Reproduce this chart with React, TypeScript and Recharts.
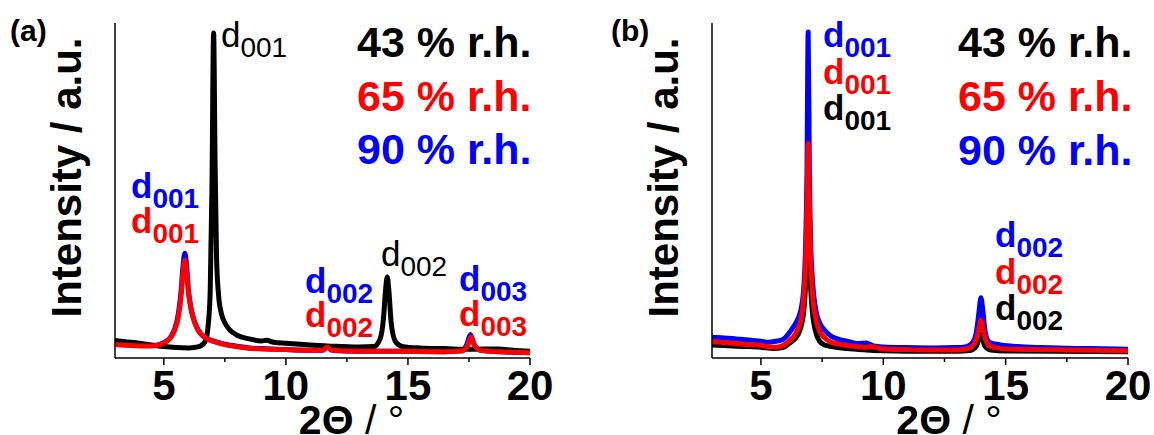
import React from "react";
import { LineChart, Line, XAxis, YAxis } from "recharts";

// 2Θ ticks (integers are labelled, halves are minor ticks)
const xTicks = [5, 7.5, 10, 12.5, 15, 17.5, 20];

// panel (a): [2Θ, intensity]
const a43 = [
  [3.0, 5.2], [3.5, 4.8], [4.0, 4.4], [4.5, 3.9], [5.0, 3.4], [5.5, 3.1], [6.0, 3.0],
  [6.3, 3.2], [6.5, 3.6], [6.7, 5], [6.82, 10], [6.9, 20], [6.97, 50], [7.04, 97],
  [7.1, 58], [7.16, 30], [7.24, 19], [7.35, 13.5], [7.5, 10.5], [7.7, 8.4], [8.0, 6.8],
  [8.5, 5.7], [9.0, 5.1], [9.2, 5.3], [9.5, 4.7], [10.0, 4.4], [11.0, 3.9], [12.0, 3.5],
  [13.0, 3.3], [13.6, 3.4], [13.85, 5.5], [14.0, 12], [14.08, 20], [14.15, 24.2],
  [14.22, 20], [14.32, 10], [14.5, 4.8], [14.8, 3.4], [15.5, 3.0], [16.5, 2.8],
  [17.5, 2.6], [18.7, 2.7], [19.3, 2.3], [20.0, 2.0],
];
const a65 = [
  [3.0, 4.0], [3.5, 3.8], [4.0, 3.6], [4.5, 3.6], [4.8, 3.9], [5.1, 4.9], [5.3, 6.3],
  [5.45, 8.4], [5.6, 12.5], [5.7, 18], [5.78, 25], [5.86, 29.2], [5.93, 26], [6.0, 20],
  [6.1, 15], [6.2, 12], [6.35, 9], [6.5, 7.3], [6.8, 5.6], [7.15, 4.7], [7.5, 4.0],
  [8.0, 3.4], [8.5, 2.9], [9.0, 2.7], [10.0, 2.5], [11.0, 2.3], [11.5, 2.3], [11.7, 3.2],
  [11.9, 2.3], [12.5, 2.1], [13.5, 2.0], [14.5, 2.0], [16.5, 1.9], [17.2, 2.1],
  [17.45, 3.8], [17.58, 6.3], [17.72, 3.8], [18.0, 2.2], [19.0, 1.8], [20.0, 1.6],
];
const a90 = [
  [3.0, 4.1], [3.5, 3.9], [4.0, 3.7], [4.5, 3.7], [4.8, 4.0], [5.1, 5.0], [5.3, 6.5],
  [5.45, 8.8], [5.6, 13.5], [5.7, 19.5], [5.78, 27], [5.86, 31.3], [5.93, 28], [6.0, 21],
  [6.1, 15.5], [6.2, 12.3], [6.35, 9.2], [6.5, 7.4], [6.8, 5.7], [7.15, 4.8], [7.5, 4.1],
  [8.0, 3.5], [8.5, 3.0], [9.0, 2.8], [10.0, 2.5], [11.0, 2.3], [11.5, 2.3], [11.7, 3.2],
  [11.9, 2.3], [12.5, 2.1], [13.5, 2.0], [14.5, 2.0], [16.5, 1.9], [17.2, 2.2],
  [17.42, 4.2], [17.56, 7], [17.7, 4.2], [18.0, 2.3], [19.0, 1.8], [20.0, 1.6],
];

// panel (b)
const b43 = [
  [3.0, 3.9], [3.5, 3.7], [4.0, 3.5], [4.5, 3.4], [5.0, 3.2], [5.5, 2.8], [5.9, 3.1],
  [6.2, 4.6], [6.4, 5.8], [6.6, 8.5], [6.75, 14], [6.85, 26], [6.93, 45], [7.0, 26],
  [7.1, 14], [7.25, 7.5], [7.4, 5.0], [7.6, 3.9], [7.9, 3.4], [8.5, 2.8], [9.3, 2.4],
  [10.0, 2.2], [12.0, 2.0], [13.0, 2.0], [13.5, 2.2], [13.8, 3.5], [13.99, 7],
  [14.15, 3.6], [14.4, 2.4], [15.0, 2.1], [17.0, 2.0], [20.0, 1.9],
];
const b65 = [
  [3.0, 4.9], [3.5, 4.6], [4.0, 4.3], [4.5, 4.0], [5.0, 3.8], [5.3, 3.4], [5.64, 3.2],
  [5.9, 3.7], [6.05, 4.4], [6.2, 5.5], [6.35, 6.5], [6.5, 8.5], [6.65, 12], [6.75, 18],
  [6.83, 30], [6.88, 45], [6.93, 64], [6.98, 45], [7.03, 30], [7.12, 18], [7.25, 11.5],
  [7.4, 8], [7.6, 6.0], [7.9, 4.6], [8.3, 4.0], [8.7, 3.6], [9.3, 3.2], [9.5, 3.4],
  [10.0, 2.7], [11.0, 2.5], [12.0, 2.4], [13.0, 2.4], [13.4, 2.7], [13.65, 3.6],
  [13.8, 5.5], [13.92, 9], [13.99, 11.3], [14.07, 9], [14.18, 5.5], [14.35, 3.5],
  [14.8, 2.8], [15.5, 2.6], [16.5, 2.5], [17.5, 2.4], [18.5, 2.3], [20.0, 2.2],
];
const b90 = [
  [3.0, 6.2], [3.5, 6.0], [4.0, 5.7], [4.5, 5.4], [5.0, 5.0], [5.3, 4.7], [5.6, 5.0],
  [5.9, 5.5], [6.1, 7.0], [6.3, 9], [6.5, 11.5], [6.65, 15], [6.75, 21], [6.83, 35],
  [6.88, 55], [6.93, 97.3], [6.98, 55], [7.03, 35], [7.12, 22], [7.25, 14], [7.4, 10.5],
  [7.6, 8.3], [7.9, 6.4], [8.6, 4.9], [9.0, 4.3], [9.3, 4.5], [9.6, 3.6], [10.0, 3.3],
  [11.0, 3.1], [12.0, 3.0], [13.0, 3.1], [13.4, 3.4], [13.65, 4.6], [13.8, 7.5],
  [13.9, 13], [13.99, 18], [14.07, 14], [14.17, 7.5], [14.35, 4.6], [14.8, 3.9],
  [15.5, 3.4], [16.5, 3.1], [17.5, 2.9], [18.5, 2.8], [20.0, 2.6],
];

const legendItems = ["43 % r.h.", "65 % r.h.", "90 % r.h."];

const FONT = '"Liberation Sans", Arial, Helvetica, sans-serif';
const BLACK = "#000000";
const RED = "#ff0000";
const BLUE = "#0000ff";
const legendColors = [BLACK, RED, BLUE];

const toPts = (arr: number[][]) => arr.map(([x, y]) => ({ x, y }));

const XTick = (props: any) => {
  const { x, y, payload } = props;
  const major = Number.isInteger(payload.value);
  return (
    <g>
      <line x1={x} y1={y} x2={x} y2={y + (major ? 7 : 4)} stroke="#000" strokeWidth={1.5} />
      {major && (
        <text x={x} y={y + 42} textAnchor="middle" fontSize={42} fontWeight="bold" fontFamily={FONT} fill="#000">
          {payload.value}
        </text>
      )}
    </g>
  );
};

const XTitle = (props: any) => {
  const vb = props.viewBox;
  return (
    <text x={vb.x + vb.width / 2 + 29} y={vb.y + 76} textAnchor="middle" fontSize={41} fontFamily={FONT} fill="#000">
      <tspan fontWeight="bold">2Θ</tspan>
      <tspan> / °</tspan>
    </text>
  );
};

const YTitle = (props: any) => {
  const vb = props.viewBox;
  const x = vb.x + vb.width - 34;
  const y = vb.y + vb.height / 2 - 13;
  return (
    <text x={x} y={y} transform={`rotate(-90 ${x} ${y})`} textAnchor="middle" fontSize={42} fontWeight="bold" fontFamily={FONT} fill="#000">
      Intensity / a.u.
    </text>
  );
};

type PanelProps = {
  left: number;
  width: number;
  marginLeft: number;
  marginRight: number;
  series: { data: number[][]; color: string }[];
};

const Panel = ({ left, width, marginLeft, marginRight, series }: PanelProps) => (
  <div style={{ position: "absolute", left, top: 0 }}>
    <LineChart
      width={width}
      height={435}
      margin={{ top: 23, right: marginRight, bottom: 0, left: marginLeft }}
      style={{ overflow: "visible" }}
    >
      <XAxis
        type="number"
        dataKey="x"
        domain={[3, 20]}
        ticks={xTicks}
        interval={0}
        tickSize={0}
        tickMargin={0}
        tickLine={false}
        height={77}
        axisLine={{ stroke: "#000", strokeWidth: 1.5 }}
        tick={(p: any) => <XTick {...p} />}
        label={{ content: (p: any) => <XTitle {...p} /> }}
      />
      <YAxis
        type="number"
        domain={[0, 100]}
        allowDataOverflow
        tick={false}
        tickLine={false}
        width={60}
        axisLine={{ stroke: "#000", strokeWidth: 1.5 }}
        label={{ content: (p: any) => <YTitle {...p} /> }}
      />
      {series.map((s, i) => (
        <Line
          key={i}
          data={toPts(s.data)}
          dataKey="y"
          type="monotone"
          stroke={s.color}
          strokeWidth={5}
          strokeLinejoin="round"
          dot={false}
          activeDot={false}
          isAnimationActive={false}
        />
      ))}
    </LineChart>
  </div>
);

const Sub = ({ x, y, color, sub, bold }: { x: number; y: number; color: string; sub: string; bold: boolean }) => (
  <text x={x} y={y} fill={color} fontFamily={FONT} fontWeight={bold ? "bold" : "normal"} fontSize={35}>
    d
    <tspan fontSize={28} dy={10}>{sub}</tspan>
  </text>
);

const Overlay = () => (
  <svg width={1154} height={435} style={{ position: "absolute", left: 0, top: 0, pointerEvents: "none" }}>
    <text x={10} y={41} fontSize={30} fontWeight="bold" fontFamily={FONT}>(a)</text>
    <text x={611} y={41} fontSize={30} fontWeight="bold" fontFamily={FONT}>(b)</text>
    {legendItems.map((t, i) => (
      <g key={t}>
        <text x={357} y={57 + i * 53.5} fontSize={43} fontWeight="bold" fontFamily={FONT} fill={legendColors[i]}>{t}</text>
        <text x={958} y={57 + i * 54} fontSize={43} fontWeight="bold" fontFamily={FONT} fill={legendColors[i]}>{t}</text>
      </g>
    ))}
    {/* panel (a) peak labels */}
    <Sub x={221} y={47} color={BLACK} sub="001" bold={false} />
    <Sub x={131} y={198} color={BLUE} sub="001" bold />
    <Sub x={131} y={233} color={RED} sub="001" bold />
    <Sub x={381} y={266} color={BLACK} sub="002" bold={false} />
    <Sub x={305} y={293} color={BLUE} sub="002" bold />
    <Sub x={305} y={327} color={RED} sub="002" bold />
    <Sub x={459} y={291} color={BLUE} sub="003" bold />
    <Sub x={459} y={326} color={RED} sub="003" bold />
    {/* panel (b) peak labels */}
    <Sub x={823} y={47} color={BLUE} sub="001" bold />
    <Sub x={823} y={84} color={RED} sub="001" bold />
    <Sub x={823} y={120} color={BLACK} sub="001" bold />
    <Sub x={995} y={247} color={BLUE} sub="002" bold />
    <Sub x={995} y={284} color={RED} sub="002" bold />
    <Sub x={995} y={320} color={BLACK} sub="002" bold />
  </svg>
);

export default function App() {
  return (
    <div style={{ position: "absolute", left: 0, top: 0, width: 1154, height: 435, background: "#fff", overflow: "hidden" }}>
      <Panel
        left={0}
        width={580}
        marginLeft={55}
        marginRight={50}
        series={[
          { data: a90, color: BLUE },
          { data: a43, color: BLACK },
          { data: a65, color: RED },
        ]}
      />
      <Panel
        left={580}
        width={574}
        marginLeft={72}
        marginRight={26}
        series={[
          { data: b90, color: BLUE },
          { data: b43, color: BLACK },
          { data: b65, color: RED },
        ]}
      />
      <Overlay />
    </div>
  );
}
